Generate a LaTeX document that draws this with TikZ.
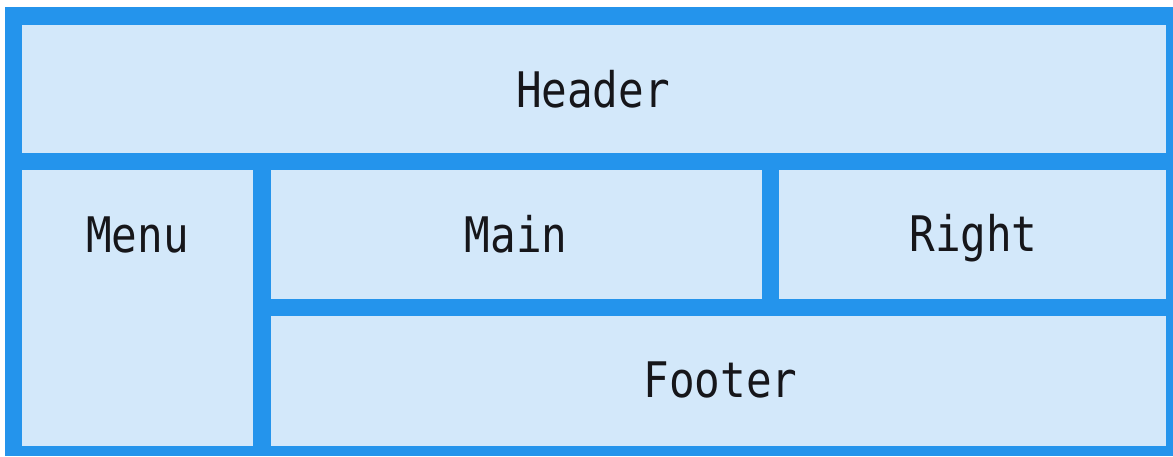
\documentclass[tikz,border=0pt]{standalone}
\usepackage{fontspec}
\setmonofont{DejaVu Sans Mono}
\definecolor{frameblue}{RGB}{36,148,236}
\definecolor{cellfill}{RGB}{211,232,250}
\definecolor{inktext}{RGB}{22,22,26}
\newcommand{\celltext}[1]{\scalebox{0.87}[1]{\ttfamily\fontsize{49}{49}\selectfont #1}}
\begin{document}
\begin{tikzpicture}[x=1pt,y=-1pt,
  cell/.style={draw=none,fill=cellfill,inner sep=0pt,outer sep=0pt,anchor=north west},
  lbl/.style={text=inktext,inner sep=0pt,anchor=base}]
\useasboundingbox (0,0) rectangle (1173,456);
\fill[white] (0,0) rectangle (1173,456);
\fill[frameblue] (5,7) rectangle (1173,456);
\node[cell,minimum width=1144pt,minimum height=128pt] (header) at (22,25) {};
\node[cell,minimum width=231pt,minimum height=276pt] (menu) at (22,170) {};
\node[cell,minimum width=491pt,minimum height=129pt] (main) at (271,170) {};
\node[cell,minimum width=387pt,minimum height=129pt] (right) at (779,170) {};
\node[cell,minimum width=895pt,minimum height=130pt] (footer) at (271,316) {};
\node[lbl] (headertxt) at (593,107) {\celltext{Header}};
\node[lbl] (menutxt) at (137.5,252) {\celltext{Menu}};
\node[lbl] (maintxt) at (516,252) {\celltext{Main}};
\node[lbl] (righttxt) at (973.5,251) {\celltext{Right}};
\node[lbl] (footertxt) at (720.5,397) {\celltext{Footer}};
\end{tikzpicture}
\end{document}
